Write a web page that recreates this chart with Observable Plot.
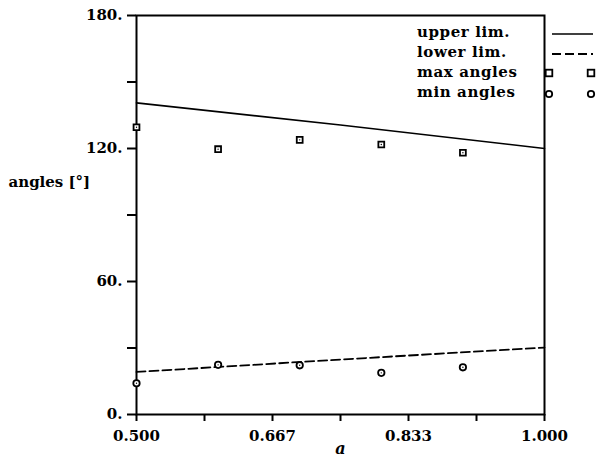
<!DOCTYPE html>
<html>
<head>
<meta charset="utf-8">
<script src="https://cdn.jsdelivr.net/npm/d3@7"></script>
<script src="https://cdn.jsdelivr.net/npm/@observablehq/plot@0.6"></script>
<style>
  html, body { margin: 0; padding: 0; background: #fff; }
  svg { font-family: "DejaVu Serif", serif; }
</style>
</head>
<body>
<div id="chart"></div>
<script>
// ---- data ----
const aValues = [0.5, 0.6, 0.7, 0.8, 0.9];
const maxAngles = [129.6, 119.7, 123.9, 121.8, 118.1];
const minAngles = [14.1, 22.4, 22.2, 18.8, 21.3];

const limA = [0.5, 0.75, 1.0];
const upperLim = [140.6, 130.6, 120.0];
const lowerLim = [19.2, 24.8, 30.2];

const xTicks = [0.5, 0.5 + 1/12, 0.5 + 2/12, 0.75, 0.5 + 4/12, 0.5 + 5/12, 1.0];
const xTickLabels = ["0.500", "", "0.667", "", "0.833", "", "1.000"];
const yTicks = [0, 30, 60, 90, 120, 150, 180];
const yTickLabels = ["0.", "", "60.", "", "120.", "", "180."];

const legendLabels = ["upper lim.", "lower lim.", "max angles", "min angles"];
const xLabel = "a";
const yLabel = "angles [°]";

// ---- tables ----
const pts = aValues.map((a, i) => ({a, max: maxAngles[i], min: minAngles[i]}));
const lims = limA.map((a, i) => ({a, upper: upperLim[i], lower: lowerLim[i]}));

const W = 598, H = 459;
const mL = 136, mR = 54, mT = 15, mB = 45;
const FS = 15;

const chart = Plot.plot({
  width: W,
  height: H,
  marginLeft: mL,
  marginRight: mR,
  marginTop: mT,
  marginBottom: mB,
  style: {fontFamily: "DejaVu Serif, serif", fontSize: FS + "px", fontWeight: "bold", color: "#000", background: "#fff"},
  x: {domain: [0.5, 1.0]},
  y: {domain: [0, 180]},
  marks: [
    Plot.frame({stroke: "#000", strokeWidth: 2}),
    Plot.axisX({
      ticks: xTicks,
      tickFormat: (d, i) => xTickLabels[i],
      tickSize: 7, tickPadding: 9, strokeWidth: 2,
      label: null, fontSize: FS
    }),
    Plot.axisY({
      ticks: yTicks,
      tickFormat: (d, i) => yTickLabels[i],
      tickSize: 9, tickPadding: 5, strokeWidth: 2,
      label: null, fontSize: FS
    }),
    Plot.line(lims, {x: "a", y: "upper", stroke: "#000", strokeWidth: 1.6}),
    Plot.line(lims, {x: "a", y: "lower", stroke: "#000", strokeWidth: 1.8, strokeDasharray: "9,4"}),
    Plot.dot(pts, {x: "a", y: "max", symbol: "square", r: 3.3, stroke: "#000", strokeWidth: 1.8, fill: "#fff"}),
    Plot.dot(pts, {x: "a", y: "max", r: 0.7, fill: "#000"}),
    Plot.dot(pts, {x: "a", y: "min", symbol: "circle", r: 3.2, stroke: "#000", strokeWidth: 1.8, fill: "#fff"}),
    Plot.dot(pts, {x: "a", y: "min", r: 0.7, fill: "#000"}),
    Plot.text([xLabel], {frameAnchor: "bottom", dy: 39, fontStyle: "italic", fontWeight: "bold", fontSize: 16, fill: "#000"}),
    Plot.text([yLabel], {frameAnchor: "left", dx: -128, dy: -33, textAnchor: "start", fontSize: FS, fontWeight: "bold", fill: "#000", style: "letter-spacing:0.4px"})
  ]
});

document.getElementById("chart").appendChild(chart);

// ---- legend (top-right, drawn into the same svg) ----
const svg = d3.select(chart);
const right = W - mR;
const leg = svg.append("g").attr("fill", "#000").attr("font-size", FS)
  .attr("font-weight", "bold").attr("text-anchor", "start");
const rowY = [32, 52, 72, 92]; // pixel layout of legend rows
legendLabels.forEach((lab, i) => {
  leg.append("text")
    .attr("x", right - 127)
    .attr("y", rowY[i])
    .attr("dy", "0.32em")
    .attr("text-anchor", "start")
    .attr("letter-spacing", "0.6px")
    .text(lab);
});
// line samples
leg.append("line").attr("x1", right + 8).attr("x2", right + 49).attr("y1", 34).attr("y2", 34)
  .attr("stroke", "#000").attr("stroke-width", 1.6);
leg.append("line").attr("x1", right + 8).attr("x2", right + 49).attr("y1", 54).attr("y2", 54)
  .attr("stroke", "#000").attr("stroke-width", 1.8).attr("stroke-dasharray", "9,4");
// marker samples
[right + 5, right + 47].forEach(x => {
  leg.append("rect").attr("x", x - 3.3).attr("y", 73 - 3.3).attr("width", 6.6).attr("height", 6.6)
    .attr("fill", "#fff").attr("stroke", "#000").attr("stroke-width", 1.8);
  leg.append("circle").attr("cx", x).attr("cy", 94).attr("r", 3.2)
    .attr("fill", "#fff").attr("stroke", "#000").attr("stroke-width", 1.8);
});
</script>
</body>
</html>
